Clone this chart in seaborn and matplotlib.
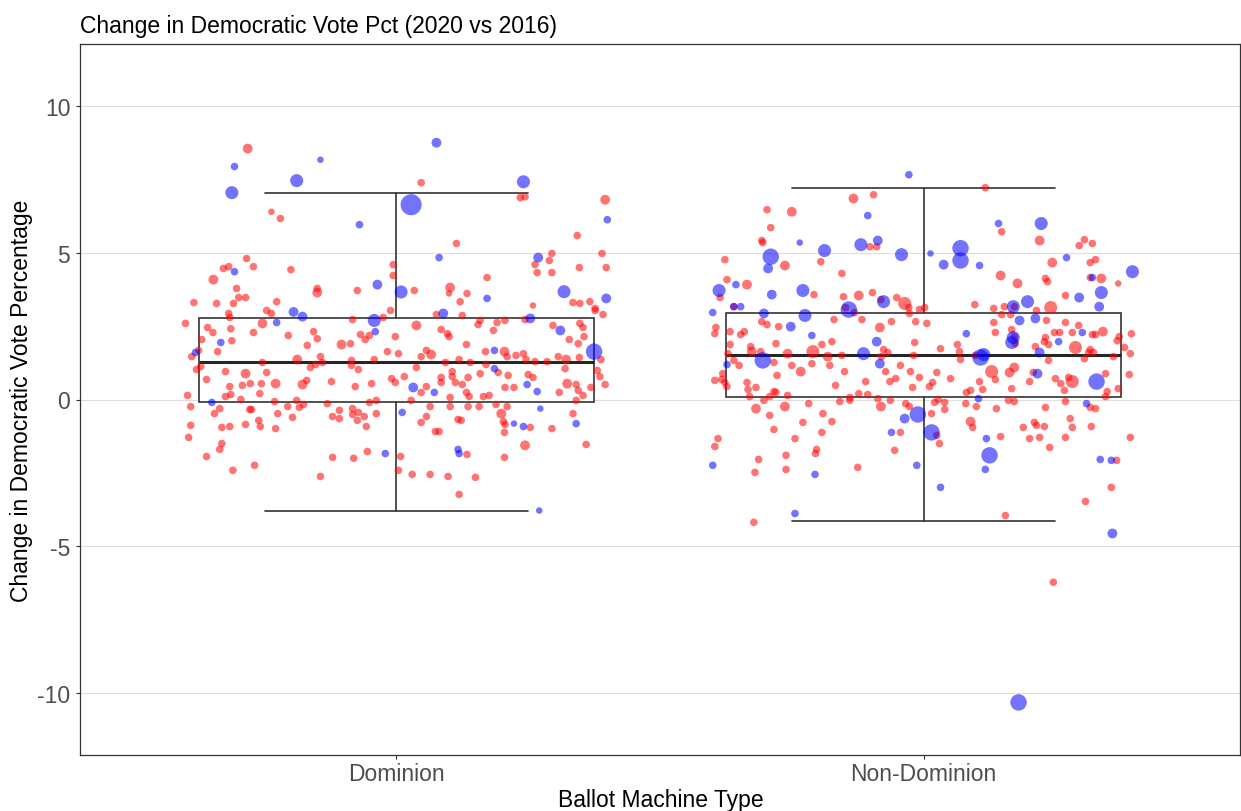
import matplotlib
matplotlib.use("Agg")
from matplotlib import pyplot as plt
import pandas as pd
import seaborn as sns

# category names and box summaries
machine_types = ["Dominion", "Non-Dominion"]
box_q1 = [-0.07, 0.07]
box_median = [1.26, 1.53]
box_q3 = [2.79, 2.96]
whisker_low = [-3.78, -4.15]
whisker_high = [7.04, 7.21]

# counties: (jitter offset, change in dem vote pct, size class)
dominion_red = [
    (-0.282, 8.54, 3), (-0.237, 6.39, 1), (-0.22, 6.16, 2), (-0.284, 4.80, 2), (-0.318, 4.52, 2),
    (-0.328, 4.46, 2), (-0.271, 4.52, 2), (-0.2, 4.42, 2), (-0.347, 4.08, 3), (-0.303, 3.78, 2),
    (-0.15, 3.78, 2), (-0.15, 3.64, 3), (-0.074, 3.71, 2), (-0.384, 3.30, 2), (-0.341, 3.27, 2),
    (-0.309, 3.27, 2), (-0.299, 3.47, 2), (-0.286, 3.47, 2), (-0.227, 3.33, 2), (-0.006, 4.59, 2),
    (-0.006, 4.22, 2), (0.047, 7.38, 2), (0.235, 6.87, 2), (0.244, 6.90, 2), (0.396, 6.80, 3),
    (0.343, 5.58, 2), (0.114, 5.31, 2), (0.295, 4.97, 2), (0.29, 4.73, 2), (0.263, 4.59, 2),
    (0.267, 4.32, 2), (0.295, 4.32, 2), (0.347, 4.49, 2), (0.39, 4.97, 2), (0.398, 4.49, 2),
    (0.172, 4.15, 2), (0.102, 3.81, 3), (0.10, 3.61, 1), (0.134, 3.61, 2), (0.121, 3.33, 2),
    (0.034, 3.71, 2), (0.259, 3.20, 1), (0.335, 3.30, 2), (0.348, 3.27, 2), (0.367, 3.33, 2),
    (0.377, 3.10, 2),
    (-0.318, 2.93, 2), (-0.316, 2.79, 2), (-0.246, 3.03, 2), (-0.237, 2.93, 2), (-0.4, 2.59, 2),
    (-0.358, 2.45, 2), (-0.348, 2.28, 2), (-0.314, 2.41, 2), (-0.254, 2.59, 3), (-0.271, 2.28, 2),
    (-0.312, 2.0, 2), (-0.369, 2.04, 2), (-0.339, 1.63, 2), (-0.388, 1.46, 2), (-0.375, 1.67, 2),
    (-0.379, 1.02, 2), (-0.371, 1.12, 2), (-0.205, 2.18, 2), (-0.157, 2.31, 2), (-0.15, 2.07, 2),
    (-0.169, 1.84, 2), (-0.104, 1.87, 3), (-0.087, 1.90, 2), (-0.083, 2.72, 2), (-0.068, 2.21, 2),
    (-0.059, 2.04, 2), (-0.051, 2.18, 2), (-0.025, 2.79, 2), (-0.011, 3.03, 2), (-0.017, 1.63, 2),
    (-0.002, 2.14, 2), (-0.188, 1.36, 3), (-0.144, 1.46, 2), (-0.14, 1.26, 2), (-0.163, 1.09, 2),
    (-0.153, 1.19, 2), (-0.085, 1.33, 2), (-0.085, 1.16, 2), (-0.072, 1.02, 2), (-0.042, 1.36, 2),
    (-0.254, 1.26, 2), (-0.324, 0.95, 2), (-0.286, 0.88, 3), (-0.246, 0.92, 2), (-0.36, 0.68, 2),
    (-0.316, 0.44, 2), (-0.314, 0.17, 2), (-0.324, 0.1, 2), (-0.292, 0.48, 2), (-0.277, 0.54, 2),
    (-0.256, 0.54, 2), (-0.259, 0.2, 2), (-0.229, 0.54, 3), (-0.295, 0.0, 2), (-0.178, 0.51, 3),
    (-0.17, 0.65, 2), (-0.123, 0.61, 2), (-0.078, 0.44, 2), (-0.047, 0.54, 2), (-0.009, 0.71, 2),
    (-0.002, 0.58, 2), (-0.396, 0.14, 2), (-0.39, -0.24, 2), (-0.335, -0.31, 2), (-0.345, -0.48, 2),
    (-0.278, -0.34, 2), (-0.275, -0.34, 2), (-0.261, -0.71, 2), (-0.258, -0.92, 2), (-0.231, -0.07, 2),
    (-0.225, -0.48, 2), (-0.206, -0.24, 2), (-0.197, -0.61, 2), (-0.189, -0.03, 2), (-0.184, -0.27, 2),
    (-0.176, -0.17, 2), (-0.131, -0.14, 2), (-0.121, -0.58, 2), (-0.108, -0.37, 2), (-0.108, -0.65, 2),
    (-0.083, -0.31, 2), (-0.083, -0.51, 2), (-0.074, -0.71, 2), (-0.072, -0.44, 2), (-0.061, -0.58, 2),
    (-0.057, -0.92, 2), (-0.051, -0.1, 2), (-0.038, -0.48, 2), (-0.038, -0.03, 2), (-0.39, -0.88, 2),
    (-0.394, -1.29, 2), (-0.331, -0.95, 2), (-0.316, -0.92, 2), (-0.286, -0.85, 2), (-0.229, -0.99, 2),
    (-0.331, -1.5, 2), (-0.335, -1.7, 2), (-0.36, -1.94, 2), (-0.269, -2.24, 2), (-0.31, -2.41, 2),
    (-0.144, -2.62, 2), (-0.121, -1.97, 2), (-0.081, -2.0, 2), (-0.055, -1.77, 2),
    (0.076, 2.89, 2), (0.125, 2.86, 2), (0.038, 2.52, 3), (0.085, 2.38, 2), (0.097, 2.24, 2),
    (0.1, 2.14, 2), (0.155, 2.55, 2), (0.159, 2.69, 2), (0.191, 2.62, 2), (0.206, 2.69, 2),
    (0.184, 2.35, 2), (0.244, 2.72, 2), (0.297, 2.52, 2), (0.328, 2.04, 2), (0.345, 1.90, 2),
    (0.348, 2.59, 2), (0.354, 2.45, 2), (0.356, 2.14, 2), (0.377, 3.03, 2), (0.392, 2.89, 2),
    (0.133, 1.87, 2), (0.169, 1.63, 2), (0.205, 1.63, 3), (0.21, 1.46, 2), (0.227, 1.50, 2),
    (0.241, 1.56, 2), (0.246, 1.36, 2), (0.057, 1.67, 2), (0.066, 1.53, 3), (0.047, 1.46, 2),
    (0.004, 1.56, 2), (0.119, 1.36, 2), (0.093, 1.26, 2), (0.14, 1.26, 2), (0.17, 1.19, 2),
    (0.193, 0.92, 2), (0.263, 1.29, 2), (0.286, 1.29, 2), (0.307, 1.46, 2), (0.322, 1.36, 3),
    (0.32, 1.05, 2), (0.347, 1.43, 2), (0.388, 1.36, 2), (0.381, 0.99, 2), (0.386, 0.78, 2),
    (0.396, 0.51, 2), (0.038, 1.09, 2), (0.015, 0.78, 2), (0.085, 0.75, 2), (0.085, 0.58, 2),
    (0.106, 0.95, 2), (0.106, 0.78, 2), (0.112, 0.58, 2), (0.125, 0.51, 2), (0.136, 0.75, 2),
    (0.159, 0.88, 2), (0.057, 0.44, 2), (0.047, 0.24, 2), (0.133, 0.24, 2), (0.138, 0.1, 2),
    (0.102, 0.07, 2), (0.165, 0.1, 2), (0.176, 0.14, 2), (0.206, 0.41, 2), (0.223, 0.41, 2),
    (0.212, 0.82, 2), (0.25, 0.85, 2), (0.259, 0.75, 2), (0.324, 0.54, 3), (0.341, 0.51, 2),
    (0.345, 0.31, 2), (0.354, 0.14, 2), (0.369, 0.41, 2), (0.309, 0.24, 2), (0.341, -0.03, 2),
    (0.028, -0.03, 2), (0.064, -0.24, 2), (0.102, -0.24, 2), (0.136, -0.24, 2), (0.157, -0.24, 2),
    (0.189, -0.17, 2), (0.21, -0.24, 2), (0.057, -0.58, 2), (0.047, -0.78, 2), (0.117, -0.68, 2),
    (0.123, -0.71, 2), (0.199, -0.48, 3), (0.203, -0.75, 2), (0.206, -0.85, 2), (0.205, -1.12, 2),
    (0.254, -0.95, 2), (0.295, -0.99, 2), (0.335, -0.48, 2), (0.074, -1.09, 2), (0.081, -1.09, 2),
    (0.244, -1.56, 3), (0.36, -1.53, 2), (0.134, -1.87, 2), (0.008, -1.94, 2), (0.004, -2.41, 2),
    (0.205, -1.97, 2), (0.03, -2.55, 2), (0.064, -2.55, 2), (0.098, -2.62, 2), (0.15, -2.65, 2),
    (0.119, -3.23, 2),
]

dominion_blue = [
    (-0.307, 7.93, 2), (-0.144, 8.16, 1), (-0.189, 7.45, 4), (-0.312, 7.04, 4), (-0.07, 5.95, 2),
    (-0.307, 4.35, 2), (-0.036, 3.91, 3), (0.009, 3.66, 4), (0.076, 8.74, 3), (0.028, 6.63, 6),
    (0.241, 7.41, 4), (0.40, 6.12, 2), (0.081, 4.83, 2), (0.269, 4.83, 3), (0.172, 3.44, 2),
    (0.318, 3.67, 4), (0.398, 3.44, 3), (-0.195, 2.98, 3), (-0.178, 2.82, 3), (-0.227, 2.62, 2),
    (-0.333, 1.94, 2), (-0.381, 1.60, 2), (-0.042, 2.69, 4), (-0.04, 2.31, 2), (-0.35, -0.1, 2),
    (-0.021, -1.84, 2), (0.089, 2.93, 3), (0.254, 2.76, 3), (0.311, 2.35, 3), (0.375, 1.63, 5),
    (0.186, 1.67, 2), (0.186, 1.05, 2), (0.032, 0.41, 3), (0.072, 0.24, 2), (0.248, 0.51, 2),
    (0.267, 0.27, 2), (0.011, -0.44, 2), (0.223, -0.82, 1), (0.241, -0.92, 2), (0.273, -0.31, 1),
    (0.341, -0.82, 2), (0.117, -1.7, 2), (0.119, -1.84, 2), (0.271, -3.78, 1),
]

non_dominion_red = [
    (-0.133, 6.84, 3), (-0.095, 6.97, 2), (-0.297, 6.46, 2), (-0.25, 6.39, 3), (-0.29, 5.85, 2),
    (-0.307, 5.41, 2), (-0.305, 5.34, 2), (-0.102, 5.2, 2), (-0.089, 5.2, 2), (-0.377, 4.76, 2),
    (-0.263, 4.56, 3), (-0.195, 4.69, 2), (-0.155, 4.29, 2), (-0.373, 4.08, 2), (-0.335, 3.91, 3),
    (-0.386, 3.47, 2), (-0.208, 3.57, 2), (-0.152, 3.50, 2), (-0.123, 3.54, 3), (-0.097, 3.64, 2),
    (-0.081, 3.40, 2), (-0.051, 3.47, 2), (-0.036, 3.27, 4), (-0.028, 3.13, 2), (-0.008, 3.06, 2),
    (-0.36, 3.16, 2), (-0.148, 3.13, 2), (-0.131, 2.96, 2), (-0.027, 2.93, 2), (-0.015, 2.65, 2),
    (-0.307, 2.65, 2), (-0.297, 2.55, 2), (-0.275, 2.48, 2), (-0.17, 2.72, 2), (-0.117, 2.72, 2),
    (-0.083, 2.45, 3), (-0.061, 2.65, 2), (-0.394, 2.45, 2), (-0.396, 2.24, 2), (-0.367, 2.31, 2),
    (-0.347, 2.21, 2), (-0.34, 2.31, 2),
    (0.117, 7.21, 2), (0.148, 5.71, 2), (0.22, 5.41, 3), (0.295, 5.24, 2), (0.305, 5.44, 2),
    (0.32, 5.31, 2), (0.316, 4.66, 2), (0.326, 4.76, 2), (0.244, 4.66, 3), (0.146, 4.22, 3),
    (0.178, 3.95, 3), (0.231, 4.12, 2), (0.235, 4.01, 2), (0.316, 4.15, 2), (0.337, 4.12, 3),
    (0.369, 3.95, 1), (0.269, 3.54, 2), (0.097, 3.23, 2), (0.133, 3.10, 2), (0.153, 3.16, 2),
    (0.241, 3.13, 4), (0.148, 2.89, 2), (0.165, 2.89, 2), (0.172, 3.16, 2), (0.214, 3.03, 2),
    (0.002, 3.13, 2), (0.006, 2.59, 2), (0.133, 2.62, 2), (0.136, 2.28, 2), (0.233, 2.69, 2),
    (0.269, 2.62, 2), (0.294, 2.52, 2), (0.167, 2.38, 2), (0.172, 2.14, 2), (0.231, 2.11, 2),
    (0.248, 2.28, 2), (0.258, 2.28, 2), (0.282, 2.28, 2), (0.32, 2.21, 2), (0.326, 2.21, 2),
    (0.34, 2.31, 3), (0.371, 2.14, 2), (0.394, 2.24, 2),
    (-0.367, 1.87, 2), (-0.371, 1.56, 2), (-0.328, 1.80, 2), (-0.326, 1.63, 3), (-0.28, 1.90, 2),
    (-0.309, 1.63, 2), (-0.36, 1.33, 2), (-0.35, 1.16, 2), (-0.284, 1.26, 2), (-0.258, 1.56, 3),
    (-0.25, 1.16, 2), (-0.21, 1.63, 4), (-0.193, 1.87, 2), (-0.174, 1.97, 2), (-0.212, 1.22, 2),
    (-0.182, 1.46, 3), (-0.178, 1.16, 2), (-0.155, 1.5, 2), (-0.15, 0.95, 2), (-0.076, 1.70, 2),
    (-0.068, 1.60, 2), (-0.08, 1.46, 2), (-0.072, 0.95, 2), (-0.064, 0.61, 2), (-0.053, 0.71, 2),
    (-0.044, 1.16, 2), (-0.025, 0.95, 2), (-0.017, 1.94, 2), (-0.019, 1.50, 2), (-0.008, 0.75, 2),
    (-0.278, 0.82, 2), (-0.233, 0.95, 3), (-0.167, 0.48, 2), (-0.11, 0.61, 2), (-0.021, 0.41, 2),
    (-0.381, 0.88, 2), (-0.383, 0.68, 2), (-0.396, 0.65, 2), (-0.377, 0.58, 2), (-0.373, 0.44, 2),
    (-0.335, 0.58, 2), (-0.333, 0.34, 2), (-0.318, 0.41, 2), (-0.284, 0.27, 2), (-0.28, 0.24, 2),
    (-0.292, 0.1, 2), (-0.258, 0.14, 2), (-0.33, 0.1, 2), (-0.303, -0.03, 2), (-0.318, -0.31, 3),
    (-0.263, -0.24, 3), (-0.218, -0.14, 2), (-0.159, -0.07, 2), (-0.14, 0.07, 2), (-0.14, -0.03, 2),
    (-0.123, 0.2, 2), (-0.106, 0.17, 2), (-0.087, 0.03, 2), (-0.081, -0.24, 3), (-0.063, -0.03, 2),
    (-0.034, -0.14, 2), (-0.027, -0.24, 2), (-0.292, -0.54, 2), (-0.284, -1.02, 2), (-0.229, -0.78, 2),
    (-0.191, -0.48, 2), (-0.174, -0.75, 2), (-0.244, -1.33, 2), (-0.193, -1.12, 2), (-0.044, -1.12, 2),
    (-0.055, -1.73, 2), (-0.39, -1.33, 2), (-0.396, -1.6, 2), (-0.313, -2.04, 2), (-0.32, -2.48, 2),
    (-0.261, -1.90, 2), (-0.261, -2.38, 2), (-0.203, -1.7, 2), (-0.205, -1.84, 2), (-0.125, -2.31, 2),
    (-0.322, -4.18, 2),
    (0.064, 1.87, 2), (0.068, 1.63, 2), (0.032, 1.73, 2), (0.098, 1.5, 2), (0.07, 1.36, 2),
    (0.174, 1.9, 2), (0.212, 1.8, 2), (0.229, 1.97, 2), (0.237, 1.87, 2), (0.237, 1.33, 2),
    (0.288, 1.77, 4), (0.305, 1.39, 2), (0.313, 1.60, 2), (0.316, 1.70, 2), (0.322, 1.60, 2),
    (0.36, 1.46, 2), (0.381, 1.77, 2), (0.392, 1.56, 2), (0.367, 2.0, 2), (0.025, 0.92, 2),
    (0.017, 0.58, 2), (0.011, 0.44, 2), (0.051, 0.71, 2), (0.129, 0.95, 4), (0.136, 0.68, 2),
    (0.106, 0.61, 2), (0.112, 0.34, 2), (0.089, 0.31, 2), (0.081, 0.24, 2), (0.163, 0.92, 3),
    (0.172, 1.09, 3), (0.201, 0.61, 2), (0.208, 0.92, 2), (0.167, 0.37, 2), (0.25, 0.71, 2),
    (0.26, 0.54, 2), (0.267, 0.31, 2), (0.275, 0.75, 2), (0.282, 0.61, 4), (0.345, 0.88, 2),
    (0.348, 0.27, 2), (0.345, 0.1, 2), (0.369, 0.37, 2), (0.39, 0.85, 2), (0.021, -0.1, 2),
    (0.028, 0.0, 2), (0.04, -0.1, 2), (0.04, -0.34, 2), (0.015, -0.48, 2), (0.08, -0.14, 2),
    (0.1, -0.24, 2), (0.138, -0.31, 2), (0.161, -0.03, 2), (0.172, -0.07, 2), (0.231, -0.27, 2),
    (0.269, -0.07, 2), (0.316, -0.27, 2), (0.326, -0.31, 2), (0.025, -1.22, 2), (0.03, -1.5, 2),
    (0.089, -0.75, 3), (0.093, -0.95, 2), (0.146, -1.26, 2), (0.189, -0.95, 2), (0.201, -1.33, 2),
    (0.21, -0.78, 2), (0.214, -0.88, 2), (0.229, -0.92, 2), (0.22, -1.29, 2), (0.239, -1.63, 2),
    (0.278, -0.65, 2), (0.282, -0.95, 2), (0.269, -1.29, 2), (0.318, -0.92, 2), (0.392, -1.29, 2),
    (0.366, -2.07, 2), (0.356, -2.99, 2), (0.307, -3.47, 2), (0.155, -3.95, 2), (0.246, -6.22, 2),
]

non_dominion_blue = [
    (-0.028, 7.65, 2), (-0.106, 6.26, 2), (-0.235, 5.34, 1), (-0.188, 5.07, 4), (-0.119, 5.27, 4),
    (-0.087, 5.41, 3), (-0.042, 4.93, 4), (-0.29, 4.86, 5), (-0.295, 4.46, 3), (-0.356, 3.91, 2),
    (-0.388, 3.71, 4), (-0.288, 3.57, 3), (-0.229, 3.71, 4), (-0.076, 3.33, 4), (-0.36, 3.16, 2),
    (-0.347, 3.16, 2), (-0.40, 2.96, 2), (-0.142, 3.06, 5), (-0.303, 2.93, 3), (-0.225, 2.86, 4),
    (-0.252, 2.48, 3), (-0.212, 2.18, 2), (0.142, 5.99, 2), (0.223, 5.99, 4), (0.07, 5.15, 5),
    (0.07, 4.73, 5), (0.013, 4.97, 1), (0.038, 4.59, 3), (0.106, 4.56, 2), (0.271, 4.83, 2),
    (0.396, 4.35, 4), (0.32, 4.15, 2), (0.337, 3.64, 4), (0.295, 3.47, 3), (0.333, 3.16, 3),
    (0.17, 3.16, 4), (0.197, 3.33, 4), (0.182, 2.69, 3), (0.212, 2.76, 3), (0.301, 2.28, 2),
    (0.170, 2.11, 4), (0.081, 2.24, 2), (-0.305, 1.33, 5), (-0.373, 1.19, 2), (-0.114, 1.56, 4),
    (-0.089, 1.97, 3), (-0.083, 1.22, 3), (-0.011, -0.51, 5), (-0.036, -0.65, 3), (-0.061, -1.12, 2),
    (-0.40, -2.24, 2), (-0.206, -2.55, 2), (-0.013, -2.24, 2), (-0.244, -3.88, 2), (0.167, 1.94, 4),
    (0.108, 1.43, 5), (0.114, 1.53, 4), (0.22, 1.60, 3), (0.256, 1.97, 2), (0.216, 0.88, 3),
    (0.328, 0.61, 5), (0.104, 0.03, 2), (0.309, -0.14, 2), (0.015, -1.12, 5), (0.119, -1.33, 2),
    (0.125, -1.90, 5), (0.117, -2.38, 2), (0.335, -2.04, 2), (0.356, -2.07, 2), (0.032, -2.99, 2),
    (0.358, -4.56, 3), (0.18, -10.31, 5),
]

size_areas = {1: 22, 2: 30, 3: 50, 4: 88, 5: 140, 6: 230}
party_colors = {"R": "#ff0000", "D": "#0000ff"}


def build_frame():
    rows = []
    groups = [
        (0, "R", dominion_red), (0, "D", dominion_blue),
        (1, "R", non_dominion_red), (1, "D", non_dominion_blue),
    ]
    for pos, party, pts in groups:
        for jit, chg, size in pts:
            rows.append({"x": pos + jit, "change": chg, "size": size, "party": party})
    return pd.DataFrame(rows)


def main():
    sns.set_style("white")
    plt.rcParams["font.family"] = ["Liberation Sans", "DejaVu Sans"]

    df = build_frame()
    fig = plt.figure(figsize=(12.41, 8.12), dpi=100)
    ax = fig.add_axes([80 / 1241, 1 - 756 / 812, 1160 / 1241, 711 / 812])

    # major grid only
    for y in [-10, -5, 0, 5, 10]:
        ax.axhline(y, color="#dedede", lw=0.8, zorder=0)

    stats = []
    for i in range(2):
        stats.append({"med": box_median[i], "q1": box_q1[i], "q3": box_q3[i],
                      "whislo": whisker_low[i], "whishi": whisker_high[i], "fliers": []})
    line_kw = {"color": "#333333", "linewidth": 1.2}
    ax.bxp(stats, positions=[0, 1], widths=0.75, capwidths=0.5, showfliers=False,
           patch_artist=True,
           boxprops={"facecolor": "white", "edgecolor": "#333333", "linewidth": 1.2},
           whiskerprops=line_kw, capprops=line_kw,
           medianprops={"color": "#262626", "linewidth": 2.2}, zorder=1)

    sns.scatterplot(data=df, x="x", y="change", hue="party", palette=party_colors,
                    size="size", sizes=size_areas, alpha=0.55, linewidth=0,
                    legend=False, ax=ax, zorder=3)

    ax.set_xlim(-0.6, 1.6)
    ax.set_ylim(-12.1, 12.1)
    ax.set_xticks([0, 1])
    ax.set_xticklabels(machine_types)
    ax.set_yticks([-10, -5, 0, 5, 10])
    ax.set_yticklabels(["-10", "-5", "0", "5", "10"])
    ax.tick_params(axis="both", labelsize=16.5, labelcolor="#4d4d4d", color="#333333",
                   length=3, width=0.8, direction="out", left=True, bottom=True)
    ax.tick_params(axis="x", pad=2)
    ax.tick_params(axis="y", pad=4)
    for side in ax.spines.values():
        side.set_color("#333333")
        side.set_linewidth(0.9)
    ax.set_xlabel("")
    ax.set_ylabel("")

    fig.text(80 / 1241, 1 - 33 / 812, "Change in Democratic Vote Pct (2020 vs 2016)",
             fontsize=16.5, va="baseline", ha="left", color="black")
    fig.text(661 / 1241, 1 - 807 / 812, "Ballot Machine Type",
             fontsize=16.5, va="baseline", ha="center", color="black")
    fig.text(22 / 1241, 1 - 401 / 812, "Change in Democratic Vote Percentage",
             fontsize=16.5, va="center", ha="center", rotation=90, color="black")

    fig.savefig("out.png", dpi=100)


if __name__ == "__main__":
    main()
